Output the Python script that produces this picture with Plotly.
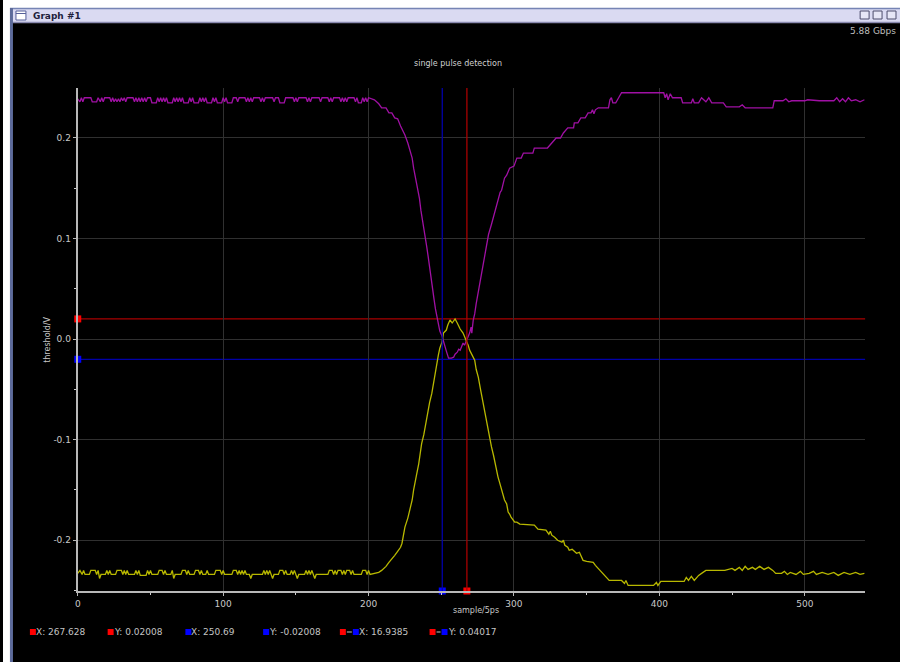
import plotly.graph_objects as go

# ---------------- data ----------------
mag_x = [0, 1.5, 2.5, 3.5, 4.5, 9, 10, 13, 14, 15.5, 16.5, 17.5, 18.5, 22, 23, 24, 25, 26, 27, 28, 29, 30, 31, 32, 33, 34,
         38, 39, 40, 41, 42, 43, 44, 45, 46, 47, 48, 50, 51, 54, 55, 56, 57, 58, 59, 60, 61, 62, 65, 66, 67, 68, 69, 70,
         71, 72, 73, 76, 77, 78, 79, 80, 83, 84, 85, 86, 87, 88, 89, 92, 93, 94, 95, 96, 99, 100, 101, 102, 103, 106,
         107, 109, 110, 111, 115, 116, 117, 118, 119, 120, 121, 125, 126, 127, 128, 129, 134, 135, 136, 138, 139, 142,
         143, 148, 149, 150, 151, 152, 157, 158, 159, 160, 161, 166, 167, 168, 172, 173, 174, 175, 176, 180, 181, 182,
         183, 184, 185, 186, 190, 191, 192, 193, 195, 196, 197, 198, 199, 200, 204,
         207, 209, 212, 214, 216, 218, 220, 222, 225, 227, 229, 230, 231, 232, 234, 235, 236, 237, 239, 240, 241, 242,
         243.5, 245, 246, 247, 248, 249, 250.5, 251.5, 252.5, 253.5, 255, 257, 258.5, 259.5, 261, 262, 263, 264, 265,
         266, 267.5, 268.5, 269.5, 270.5, 271, 272, 273, 274, 275.5, 277, 278, 280, 281, 282.5, 284.5, 286, 287.5, 289,
         290.5, 291.5, 292.5, 293.5, 295, 296, 297, 300, 302, 305, 306.5, 313, 314, 323, 324, 326, 329, 332, 334, 337,
         341, 341.5, 344, 346, 349, 351, 353, 354, 355, 356, 358, 365, 366, 367, 368, 370, 372, 374, 403, 404, 405, 406,
         407.5, 409, 415, 416, 422, 423, 424, 427, 429, 432, 434, 436, 444, 446, 455, 457, 459, 478, 479, 485, 487, 489,
         491, 500, 502, 510, 520, 522, 524, 526, 528, 530, 532, 535, 538, 541]
mag_y = [0.239, 0.236, 0.240, 0.236, 0.240, 0.240, 0.236, 0.236, 0.240, 0.236, 0.240, 0.236, 0.240, 0.240, 0.236, 0.240,
         0.236, 0.239, 0.236, 0.239, 0.236, 0.240, 0.237, 0.240, 0.236, 0.240,
         0.240, 0.236, 0.240, 0.236, 0.240, 0.236, 0.240, 0.236, 0.240, 0.236, 0.240, 0.240, 0.235, 0.235, 0.240, 0.236,
         0.240, 0.236, 0.240, 0.236, 0.240, 0.235, 0.235, 0.240, 0.236, 0.240, 0.236, 0.240,
         0.236, 0.240, 0.235, 0.235, 0.240, 0.236, 0.240, 0.235, 0.235, 0.240, 0.236, 0.240, 0.236, 0.240, 0.235, 0.235,
         0.240, 0.236, 0.240, 0.235, 0.235, 0.240, 0.236, 0.240, 0.235, 0.235,
         0.240, 0.240, 0.236, 0.240, 0.240, 0.236, 0.240, 0.236, 0.240, 0.236, 0.240, 0.240, 0.236, 0.240, 0.236, 0.240,
         0.240, 0.236, 0.240, 0.240, 0.235, 0.235,
         0.240, 0.240, 0.236, 0.240, 0.236, 0.240, 0.240, 0.236, 0.240, 0.236, 0.240, 0.240, 0.236, 0.240, 0.240, 0.236,
         0.240, 0.236, 0.240, 0.240, 0.236, 0.240,
         0.236, 0.240, 0.236, 0.240, 0.240, 0.236, 0.240, 0.235, 0.235, 0.240, 0.236, 0.240, 0.236, 0.240, 0.238,
         0.234, 0.230, 0.230, 0.225, 0.225, 0.220, 0.219, 0.212, 0.203, 0.195, 0.185, 0.180, 0.170, 0.163, 0.148, 0.140,
         0.128, 0.120, 0.104, 0.092, 0.082, 0.070,
         0.057, 0.040, 0.030, 0.022, 0.015, 0.008, 0.003, -0.003, -0.006, -0.012, -0.019, -0.019, -0.018, -0.015, -0.013,
         -0.010, -0.011, -0.008, -0.004,
         -0.006, -0.001, 0.003, 0.006, 0.012, 0.006, 0.019, 0.025, 0.035, 0.047, 0.060, 0.070, 0.084, 0.092, 0.104, 0.114,
         0.122, 0.132, 0.140,
         0.146, 0.148, 0.155, 0.160, 0.163, 0.166, 0.170, 0.172, 0.180, 0.180, 0.185, 0.185, 0.190, 0.190, 0.192, 0.195,
         0.200, 0.200, 0.205, 0.210,
         0.210, 0.215, 0.215, 0.220, 0.220, 0.225, 0.225, 0.228, 0.224, 0.228, 0.230, 0.230, 0.238, 0.240, 0.235, 0.235,
         0.240, 0.245, 0.245, 0.240, 0.244, 0.238,
         0.244, 0.240, 0.240, 0.235, 0.235, 0.239, 0.235, 0.235, 0.240, 0.236, 0.240, 0.235, 0.235, 0.231, 0.231, 0.233,
         0.230, 0.230, 0.237, 0.237, 0.239, 0.236,
         0.237, 0.237, 0.238, 0.237, 0.237, 0.240, 0.236, 0.239, 0.236, 0.240, 0.237, 0.238, 0.236, 0.238]

yel_x = [0, 1.5, 3, 4, 5, 8, 9, 12, 13, 14, 15, 16, 19, 20, 21, 22, 23, 26, 27, 30, 31, 32, 33, 34, 35, 39, 40, 41, 42,
         43, 47, 48, 49, 50, 51, 55, 56, 58, 59, 60, 61, 64, 65, 66, 67, 71, 72, 74, 75, 76, 77, 80, 81, 83, 84, 85, 86,
         88, 89, 90, 94, 95, 98, 99, 100, 101, 106, 107, 109, 110, 111, 112, 113, 114, 115, 116, 118, 119, 120, 127, 128,
         129, 130, 131, 132, 133, 134, 135, 138, 139, 141, 142, 143, 144, 146, 147, 148, 149, 150, 151, 152, 156, 157,
         158, 159, 160, 161, 162, 163, 164, 172, 173, 175, 176, 177, 178, 179, 181, 182, 183, 184, 185, 187, 188, 189,
         190, 195, 196, 198, 199, 200, 201, 204,
         207, 209, 212, 214, 216, 218, 220, 222, 223, 224, 225, 227, 228.5, 230, 231, 232, 233, 234.5, 235.5, 236.5, 238,
         239, 240, 241, 242, 243.5, 244.5, 245.5, 247, 248, 249, 250.5, 251.5, 253.5, 254.5, 256, 257.5, 259.5, 261, 262,
         263, 265, 266, 267.5, 268.5, 269.5, 271, 272, 273, 274, 275.5, 277, 278, 279, 280, 281, 282.5, 283.5, 284.5, 286,
         287, 288, 289, 290, 291.5, 292.5, 293.5, 295, 296, 297, 298, 300.5, 302, 304, 314, 316.5, 322, 324, 325, 326,
         328, 330, 333, 334, 335, 337, 338, 340, 343, 345, 347.5, 350, 354.5, 356, 358, 360, 362, 365.5, 374, 376, 377,
         378.5, 396, 398, 399, 401, 417, 418.5, 420, 422, 424, 426, 427, 430, 432, 445, 447, 450, 452, 455, 457, 459, 461,
         464, 466, 469, 472, 475, 478, 480, 484, 486, 488, 490, 494, 497, 499, 503, 506, 508, 512, 516, 520, 523, 527, 531,
         535, 538, 541]
yel_y = [-0.233, -0.230, -0.234, -0.230, -0.234, -0.234, -0.230, -0.230, -0.234, -0.230, -0.238, -0.234, -0.234, -0.230,
         -0.234, -0.230, -0.234, -0.234, -0.230, -0.230, -0.234, -0.230, -0.234, -0.230, -0.234, -0.234, -0.230, -0.234,
         -0.230, -0.235, -0.235, -0.230, -0.234, -0.230, -0.234, -0.234, -0.230, -0.230, -0.234, -0.230, -0.234, -0.234,
         -0.230, -0.238, -0.234, -0.234, -0.230, -0.230, -0.234, -0.230, -0.234, -0.234, -0.230, -0.230, -0.234, -0.230,
         -0.234, -0.234, -0.230, -0.234, -0.234, -0.230, -0.230, -0.234, -0.230, -0.234, -0.234, -0.230, -0.230, -0.234,
         -0.230, -0.234, -0.230, -0.234, -0.230, -0.234, -0.234, -0.238, -0.234, -0.234, -0.230, -0.234, -0.230, -0.234,
         -0.230, -0.234, -0.238, -0.234, -0.234, -0.230, -0.230, -0.234, -0.230, -0.234, -0.234, -0.230, -0.234, -0.230,
         -0.234, -0.238, -0.234, -0.234, -0.230, -0.234, -0.230, -0.234, -0.230, -0.234, -0.238, -0.234, -0.234, -0.230,
         -0.230, -0.234, -0.230, -0.234, -0.230, -0.230, -0.234, -0.230, -0.234, -0.230, -0.230, -0.234, -0.230, -0.234,
         -0.234, -0.230, -0.230, -0.234, -0.230, -0.234, -0.233,
         -0.232, -0.230, -0.226, -0.222, -0.219, -0.215, -0.211, -0.207, -0.203, -0.195, -0.187, -0.178, -0.170, -0.160,
         -0.150, -0.140, -0.135, -0.124, -0.113, -0.104, -0.095,
         -0.086, -0.080, -0.071, -0.063, -0.054, -0.045, -0.038, -0.022, -0.016, -0.009, -0.003, 0.006, 0.009, 0.014,
         0.019, 0.016, 0.020, 0.016, 0.012,
         0.010, 0.006, 0.003, -0.003, -0.006, -0.011, -0.015, -0.019, -0.021, -0.030, -0.038, -0.050, -0.058, -0.064,
         -0.074, -0.082, -0.091, -0.100, -0.107, -0.116,
         -0.124, -0.130, -0.137, -0.142, -0.150, -0.155, -0.160, -0.164, -0.172, -0.174, -0.177, -0.182, -0.182, -0.184,
         -0.185, -0.189, -0.190, -0.194, -0.191, -0.195,
         -0.197, -0.200, -0.202, -0.200, -0.205, -0.207, -0.210, -0.209, -0.213, -0.212, -0.220, -0.221, -0.222, -0.225,
         -0.228, -0.232, -0.235, -0.240, -0.240, -0.243, -0.240,
         -0.245, -0.245, -0.242, -0.245, -0.241, -0.241, -0.237, -0.240, -0.236, -0.240, -0.237, -0.235, -0.232, -0.230,
         -0.230, -0.229, -0.228, -0.230, -0.227, -0.230, -0.226, -0.229,
         -0.227, -0.229, -0.226, -0.229, -0.227, -0.230, -0.233, -0.233, -0.231, -0.234, -0.232, -0.234, -0.231, -0.234,
         -0.233, -0.231, -0.234, -0.232, -0.234, -0.232, -0.235, -0.232, -0.234,
         -0.232, -0.234, -0.233]

cursor_x = [267.628, 250.69]      # red, blue
cursor_y = [0.02008, -0.02008]    # red, blue
x_ticks = [0, 100, 200, 300, 400, 500]
x_tick_labels = ["0", "100", "200", "300", "400", "500"]
y_ticks = [-0.2, -0.1, 0.0, 0.1, 0.2]
y_tick_labels = ["-0.2", "-0.1", "0.0", "0.1", "0.2"]
readout_labels = ["X: 267.628", "Y: 0.02008", "X: 250.69", "Y: -0.02008", "X: 16.9385", "Y: 0.04017"]

# ---------------- styling ----------------
W, H = 900, 662
FONT = "DejaVu Sans"
RED_LINE, BLUE_LINE = "#a80000", "#0000a8"
RED_MK, BLUE_MK = "#ff0000", "#0000ff"
X_RANGE = [0, 541.5]
Y_RANGE = [-0.2505, 0.2497]


def px(v):
    return v / W


def py(v):
    return 1 - v / H


fig = go.Figure()

fig.add_trace(go.Scatter(x=mag_x, y=mag_y, mode="lines",
                         line=dict(color="#a010a4", width=1.3), hoverinfo="skip"))
fig.add_trace(go.Scatter(x=yel_x, y=yel_y, mode="lines",
                         line=dict(color="#b8b800", width=1.3), hoverinfo="skip"))

# cursor markers on axes
fig.add_trace(go.Scatter(x=[0, 0], y=cursor_y, mode="markers", cliponaxis=False,
                         marker=dict(symbol="square", size=7, color=[RED_MK, BLUE_MK]), hoverinfo="skip"))
fig.add_trace(go.Scatter(x=cursor_x, y=[Y_RANGE[0], Y_RANGE[0]], mode="markers", cliponaxis=False,
                         marker=dict(symbol="square", size=7, color=[RED_MK, BLUE_MK]), hoverinfo="skip"))

shapes = []
# cursor lines
for xv, c in zip(cursor_x, [RED_LINE, BLUE_LINE]):
    shapes.append(dict(type="line", xref="x", yref="y domain", x0=xv, x1=xv, y0=0, y1=1,
                       line=dict(color=c, width=1.3), layer="above"))
for yv, c in zip(cursor_y, [RED_LINE, BLUE_LINE]):
    shapes.append(dict(type="line", xref="x domain", yref="y", x0=0, x1=1, y0=yv, y1=yv,
                       line=dict(color=c, width=1.3), layer="below"))

# window chrome
shapes.append(dict(type="rect", xref="paper", yref="paper", x0=0, x1=1, y0=py(8), y1=1,
                   fillcolor="#ffffff", line=dict(width=0), layer="below"))
shapes.append(dict(type="rect", xref="paper", yref="paper", x0=0, x1=px(7), y0=0, y1=1,
                   fillcolor="#ffffff", line=dict(width=0), layer="below"))
shapes.append(dict(type="rect", xref="paper", yref="paper", x0=px(7), x1=1, y0=py(23), y1=py(8),
                   fillcolor="#dadaf2", line=dict(width=0), layer="below"))
shapes.append(dict(type="line", xref="paper", yref="paper", x0=px(7), x1=1, y0=py(8.5), y1=py(8.5),
                   line=dict(color="#7684b4", width=1.5), layer="below"))
shapes.append(dict(type="line", xref="paper", yref="paper", x0=px(7), x1=1, y0=py(22.5), y1=py(22.5),
                   line=dict(color="#8a8ab0", width=1.5), layer="below"))
shapes.append(dict(type="rect", xref="paper", yref="paper", x0=px(7), x1=px(10), y0=0, y1=py(8),
                   fillcolor="#5d6b9b", line=dict(width=0), layer="below"))
# title bar icon
shapes.append(dict(type="rect", xref="paper", yref="paper", x0=px(13), x1=px(23), y0=py(20), y1=py(11),
                   fillcolor="#ffffff", line=dict(color="#56609a", width=1), layer="below"))
shapes.append(dict(type="line", xref="paper", yref="paper", x0=px(13), x1=px(23), y0=py(13.5), y1=py(13.5),
                   line=dict(color="#56609a", width=1), layer="below"))
# right-hand window buttons
for x0 in [860, 873, 887]:
    shapes.append(dict(type="rect", xref="paper", yref="paper", x0=px(x0), x1=px(x0 + 9), y0=py(19), y1=py(11),
                       fillcolor="#e6e6f6", line=dict(color="#4c4c6c", width=1), layer="below"))

# readout legend squares
sq_groups = [[(27, RED_MK)], [(105, RED_MK)], [(183, BLUE_MK)], [(261, BLUE_MK)],
             [(338, RED_MK), (351, BLUE_MK)], [(428, RED_MK), (440, BLUE_MK)]]
text_x = [31, 109, 187, 265, 355, 444]
for grp in sq_groups:
    for x0, c in grp:
        shapes.append(dict(type="rect", xref="paper", yref="paper", x0=px(x0), x1=px(x0 + 6),
                           y0=py(635), y1=py(629), fillcolor=c, line=dict(width=0)))
    if len(grp) == 2:
        shapes.append(dict(type="line", xref="paper", yref="paper", x0=px(grp[0][0] + 7), x1=px(grp[1][0] - 1),
                           y0=py(632), y1=py(632), line=dict(color="#c8c8c8", width=1)))

annotations = []
for tx, lab in zip(text_x, readout_labels):
    annotations.append(dict(xref="paper", yref="paper", x=px(tx), y=py(632), text=lab, showarrow=False,
                            xanchor="left", yanchor="middle", font=dict(family=FONT, size=9, color="#c4c4c4")))
annotations.append(dict(xref="paper", yref="paper", x=px(457), y=py(63), text="single pulse detection",
                        showarrow=False, xanchor="center", yanchor="middle",
                        font=dict(family=FONT, size=8, color="#d0d0d0")))
annotations.append(dict(xref="paper", yref="paper", x=px(475), y=py(610), text="sample/5ps",
                        showarrow=False, xanchor="center", yanchor="middle",
                        font=dict(family=FONT, size=8, color="#c8c8c8")))
annotations.append(dict(xref="paper", yref="paper", x=px(44), y=py(340), text="threshold/V", textangle=-90,
                        showarrow=False, xanchor="center", yanchor="middle",
                        font=dict(family=FONT, size=8, color="#c8c8c8")))
annotations.append(dict(xref="paper", yref="paper", x=px(898), y=py(31), text="5.88 Gbps",
                        showarrow=False, xanchor="right", yanchor="middle",
                        font=dict(family=FONT, size=9, color="#bdbdbd")))
annotations.append(dict(xref="paper", yref="paper", x=px(28), y=py(15.5), text="<b>Graph #1</b>",
                        showarrow=False, xanchor="left", yanchor="middle",
                        font=dict(family=FONT, size=9, color="#1e1e3c")))

axis_common = dict(showgrid=True, gridcolor="#303030", gridwidth=1, zeroline=False,
                   showline=True, linecolor="#b8b8b8", linewidth=2,
                   ticks="outside", ticklen=3, tickcolor="#b8b8b8", tickwidth=1,
                   tickfont=dict(family=FONT, size=9, color="#c8c8c8"), fixedrange=True)

fig.update_layout(
    width=W, height=H, autosize=False,
    margin=dict(l=0, r=0, t=0, b=0, pad=0),
    paper_bgcolor="#000000", plot_bgcolor="#000000",
    showlegend=False,
    xaxis=dict(domain=[px(75), px(865)], range=X_RANGE, tickmode="array", tickvals=x_ticks,
               ticktext=x_tick_labels,
               minor=dict(dtick=50, tick0=0, ticks="outside", ticklen=2, tickcolor="#d0d0d0", showgrid=False),
               **axis_common),
    yaxis=dict(domain=[1 - 591 / H, 1 - 88 / H], range=Y_RANGE, tickmode="array", tickvals=y_ticks,
               ticktext=y_tick_labels,
               minor=dict(dtick=0.05, tick0=0, ticks="outside", ticklen=2, tickcolor="#d0d0d0", showgrid=False),
               **axis_common),
    shapes=shapes,
    annotations=annotations,
)

fig.write_html("out.html", config={"displayModeBar": False},
               post_script="document.body.style.margin='0';document.body.style.overflow='hidden';")
